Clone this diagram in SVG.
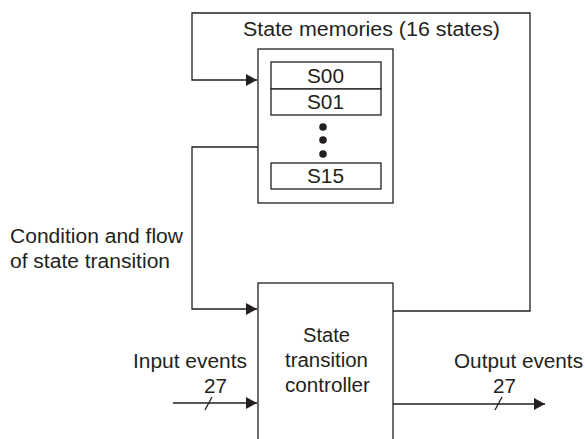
<svg xmlns="http://www.w3.org/2000/svg" width="585" height="439" viewBox="0 0 585 439">
<style>
.ln{fill:none;stroke:#231f20;stroke-width:1.3}
.bx{fill:#fff;stroke:#231f20;stroke-width:1.3}
text{font-family:"Liberation Sans",Arial,sans-serif;font-size:19.5px;fill:#231f20}
</style>
<defs>
<marker id="ah" markerUnits="userSpaceOnUse" markerWidth="12" markerHeight="12" refX="11" refY="6" orient="auto">
<path d="M0,0 L11,6 L0,12 z" fill="#231f20"/>
</marker>
</defs>
<g id="connectors">
<polyline class="ln" points="393,311 530,311 530,13 192,13 192,80 257,80" marker-end="url(#ah)"/>
<polyline class="ln" points="258,147 192,147 192,309 257,309" marker-end="url(#ah)"/>
<line class="ln" x1="173" y1="403" x2="257" y2="403" marker-end="url(#ah)"/>
<line class="ln" x1="205" y1="410" x2="212" y2="397"/>
<line class="ln" x1="393" y1="404" x2="545" y2="404" marker-end="url(#ah)"/>
<line class="ln" x1="495" y1="410" x2="502" y2="397"/>
<text x="10" y="243" textLength="173" lengthAdjust="spacingAndGlyphs">Condition and flow</text>
<text x="10" y="268" textLength="160" lengthAdjust="spacingAndGlyphs">of state transition</text>
<text x="133" y="368" textLength="114" lengthAdjust="spacingAndGlyphs">Input events</text>
<text x="204" y="393" textLength="23" lengthAdjust="spacingAndGlyphs">27</text>
<text x="454" y="368" textLength="129" lengthAdjust="spacingAndGlyphs">Output events</text>
<text x="493" y="393" textLength="23" lengthAdjust="spacingAndGlyphs">27</text>
</g>
<g id="memories">
<text x="243" y="36" textLength="257" lengthAdjust="spacingAndGlyphs">State memories (16 states)</text>
<rect class="bx" x="258" y="49" width="135" height="154"/>
<g id="s00">
<rect class="bx" x="271" y="62" width="110" height="27"/>
<text x="307" y="83" textLength="37" lengthAdjust="spacingAndGlyphs">S00</text>
</g>
<g id="s01">
<rect class="bx" x="271" y="89" width="110" height="26"/>
<text x="307" y="109" textLength="37" lengthAdjust="spacingAndGlyphs">S01</text>
</g>
<circle cx="323" cy="127" r="3.8" fill="#231f20"/>
<circle cx="323" cy="140" r="3.8" fill="#231f20"/>
<circle cx="323" cy="154" r="3.8" fill="#231f20"/>
<g id="s15">
<rect class="bx" x="271" y="163" width="110" height="26"/>
<text x="307" y="183" textLength="37" lengthAdjust="spacingAndGlyphs">S15</text>
</g>
</g>
<g id="controller">
<rect class="bx" x="258" y="283" width="135" height="170"/>
<text x="303" y="342" textLength="47" lengthAdjust="spacingAndGlyphs">State</text>
<text x="285" y="367" textLength="83" lengthAdjust="spacingAndGlyphs">transition</text>
<text x="285" y="392" textLength="85" lengthAdjust="spacingAndGlyphs">controller</text>
</g>
</svg>
